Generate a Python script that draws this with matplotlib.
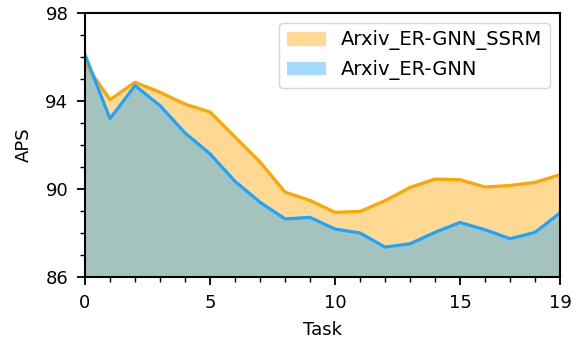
import matplotlib
matplotlib.use("Agg")
import matplotlib.pyplot as plt
import numpy as np

tasks = list(range(20))
ssrm = [95.7, 94.06, 94.85, 94.4, 93.86, 93.5, 92.36, 91.23, 89.86, 89.48,
        88.94, 88.98, 89.47, 90.07, 90.45, 90.42, 90.09, 90.16, 90.3, 90.65]
base = [96.1, 93.2, 94.7, 93.79, 92.55, 91.6, 90.35, 89.4, 88.64, 88.71,
        88.18, 88.0, 87.36, 87.51, 88.03, 88.48, 88.15, 87.74, 88.03, 88.91]
labels = ["Arxiv_ER-GNN_SSRM", "Arxiv_ER-GNN"]
xticks = [0, 5, 10, 15, 19]
yticks = [86, 90, 94, 98]

orange = "#FFA500"
blue = "#1EA4FF"

fig = plt.figure(figsize=(5.81, 3.43), dpi=100)
ax = fig.add_axes([85/581, 1-277/343, (560-85)/581, (277-13)/343])

ax.fill_between(tasks, 86, ssrm, color=orange, alpha=0.42, linewidth=0, label=labels[0])
ax.plot(tasks, ssrm, color=orange, linewidth=2.3)
ax.fill_between(tasks, 86, base, color=blue, alpha=0.4, linewidth=0, label=labels[1])
ax.plot(tasks, base, color=blue, linewidth=2.3)

ax.set_xlim(0, 19)
ax.set_ylim(86, 98)
ax.set_xticks(xticks)
ax.set_yticks(yticks)
ax.set_xticks(tasks, minor=True)
ax.set_yticks(np.arange(86, 99, 1), minor=True)
ax.tick_params(which="major", length=6, width=1.3, labelsize=13, pad=6)
ax.tick_params(which="minor", length=3.5, width=1.0)
for s in ax.spines.values():
    s.set_linewidth(1.5)
ax.set_xlabel("Task", fontsize=13, labelpad=7)
ax.set_ylabel("APS", fontsize=13, labelpad=9)
ax.legend(loc="upper right", fontsize=14)

fig.savefig("out.png", dpi=100)
